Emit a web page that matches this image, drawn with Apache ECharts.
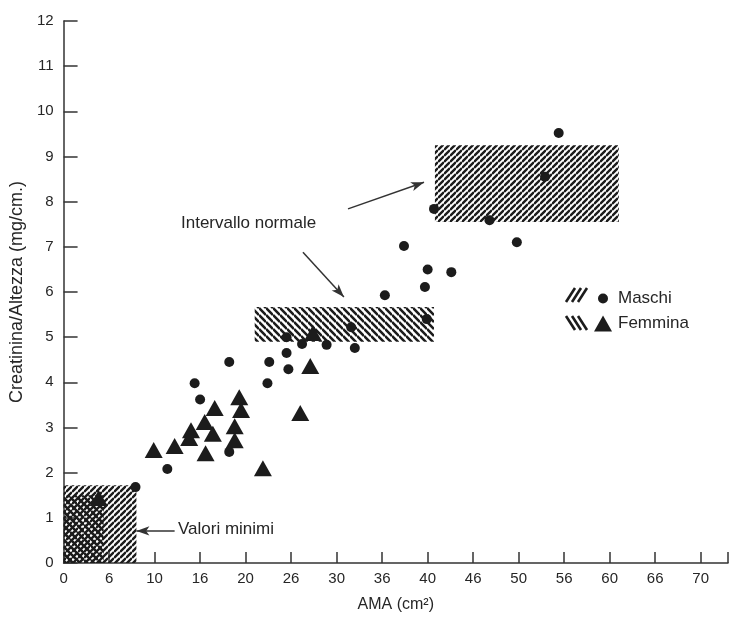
<!DOCTYPE html>
<html>
<head>
<meta charset="utf-8">
<script src="https://cdn.jsdelivr.net/npm/echarts@6/dist/echarts.min.js"></script>
<style>
  html, body { margin: 0; padding: 0; background: #ffffff; }
  #chart { width: 732px; height: 619px; }
</style>
</head>
<body>
<div id="chart"></div>
<script>
// etichette dell'asse x (come stampate nell'originale, una ogni 5 unità)
var xTickLabels = ['0', '6', '10', '16', '20', '26', '30', '36', '40', '46', '50', '56', '60', '66', '70'];

// Maschi: [AMA, creatinina/altezza]
var maschi = [
  [7.9, 1.68], [11.4, 2.08], [18.2, 4.45], [14.4, 3.98], [15.0, 3.62],
  [22.6, 4.45], [24.5, 4.65], [24.7, 4.29], [22.4, 3.98], [18.2, 2.46],
  [24.5, 5.0], [26.2, 4.85], [28.9, 4.83], [32.0, 4.76], [31.6, 5.22],
  [39.9, 5.4], [35.3, 5.93], [37.4, 7.02], [40.0, 6.5], [42.6, 6.44],
  [39.7, 6.11], [40.7, 7.84], [46.8, 7.59], [49.8, 7.1], [54.4, 9.52],
  [52.9, 8.55]
];

// Femmina
var femmina = [
  [3.85, 1.44], [9.9, 2.5], [12.2, 2.59], [13.8, 2.77], [14.0, 2.94],
  [15.5, 3.12], [16.6, 3.43], [16.4, 2.86], [15.6, 2.43], [18.8, 3.03],
  [18.8, 2.72], [19.3, 3.67], [19.5, 3.39], [21.9, 2.1], [26.0, 3.32],
  [27.1, 4.36], [27.4, 5.09]
];

// intervalli normali / valori minimi: [x1, y1, x2, y2]
var maschiBoxes = [[0, 0, 8, 1.72], [40.8, 7.55, 61, 9.25]];
var femminaBoxes = [[0, 0, 4.4, 1.5], [21, 4.9, 40.7, 5.67]];

// frecce delle annotazioni: [x1, y1, x2, y2]
var arrows = [[31.25, 7.84, 39.6, 8.43], [26.3, 6.88, 30.8, 5.89], [12.2, 0.71, 8.0, 0.71]];

var FONT = "'Liberation Sans', Arial, Helvetica, sans-serif";
var INK = '#1c1c1c';
var TXT = '#262626';

/* tratteggio: '/' per i maschi, '\' per le femmine */
function hatch(dir, s, w) {
  var c = document.createElement('canvas');
  c.width = s; c.height = s;
  var ctx = c.getContext('2d');
  ctx.strokeStyle = INK;
  ctx.lineWidth = w;
  ctx.beginPath();
  for (var k = -1; k <= 1; k++) {
    if (dir === '/') {
      ctx.moveTo(0, s + k * s); ctx.lineTo(s, k * s);
    } else {
      ctx.moveTo(0, k * s); ctx.lineTo(s, s + k * s);
    }
  }
  ctx.stroke();
  return { image: c, repeat: 'repeat' };
}
var hatchM = hatch('/', 6, 2.4);
var hatchF = hatch('\\', 7, 2.6);

function boxes(list) {
  return list.map(function (b) {
    return [{ coord: [b[0], b[1]] }, { coord: [b[2], b[3]] }];
  });
}

// piccoli campioni di tratteggio della legenda (3 tratti)
function swatch(x, y, dir) {
  var out = [];
  for (var i = 0; i < 3; i++) {
    var x0 = x + i * 6;
    var pts = dir === '/' ? [[x0, y + 16], [x0 + 9, y + 2]] : [[x0, y + 2], [x0 + 9, y + 16]];
    out.push({ type: 'polyline', shape: { points: pts }, style: { stroke: INK, lineWidth: 2.6 } });
  }
  return out;
}

var myChart = echarts.init(document.getElementById('chart'));
var option = {
  backgroundColor: '#ffffff',
  animation: false,
  textStyle: { fontFamily: FONT },
  grid: { left: 62, right: 4, top: 21, bottom: 56 },
  legend: [
    {
      data: ['Maschi'], left: 598, top: 290, padding: 0, orient: 'vertical',
      itemWidth: 10, itemHeight: 10, selectedMode: false,
      textStyle: { fontSize: 17, color: TXT, fontFamily: FONT, padding: [0, 0, 0, 5] }
    },
    {
      data: ['Femmina'], left: 594, top: 315, padding: 0, orient: 'vertical',
      itemWidth: 18, itemHeight: 16, selectedMode: false,
      textStyle: { fontSize: 17, color: TXT, fontFamily: FONT, padding: [0, 0, 0, 1] }
    }
  ],
  xAxis: {
    type: 'value', min: 0, max: 73, interval: 5,
    name: 'AMA (cm²)', nameLocation: 'middle', nameGap: 34,
    nameTextStyle: { fontSize: 16, color: TXT, fontFamily: FONT },
    axisLine: { lineStyle: { color: '#333', width: 1.5 } },
    axisTick: { inside: true, length: 11, lineStyle: { color: '#333', width: 1.5 } },
    axisLabel: {
      fontSize: 15, color: TXT, margin: 8, fontFamily: FONT,
      formatter: function (v) { return xTickLabels[Math.round(v / 5)] || ''; }
    },
    splitLine: { show: false }
  },
  yAxis: {
    type: 'value', min: 0, max: 12, interval: 1,
    name: 'Creatinina/Altezza (mg/cm.)', nameLocation: 'middle', nameGap: 35,
    nameTextStyle: { fontSize: 18, color: TXT, fontFamily: FONT },
    axisLine: { lineStyle: { color: '#333', width: 1.5 } },
    axisTick: { inside: true, length: 14, lineStyle: { color: '#333', width: 1.5 } },
    axisLabel: { fontSize: 15, color: TXT, margin: 10, fontFamily: FONT },
    splitLine: { show: false }
  },
  series: [
    {
      name: 'Maschi', type: 'scatter', symbol: 'circle', symbolSize: 10,
      itemStyle: { color: INK, opacity: 1 },
      data: maschi,
      markArea: {
        silent: true,
        itemStyle: { color: hatchM, borderWidth: 0 },
        data: boxes(maschiBoxes)
      },
      markLine: {
        silent: true,
        symbol: ['none', 'arrow'], symbolSize: [7, 13],
        label: { show: false },
        lineStyle: { color: '#333', width: 1.5, type: 'solid' },
        data: arrows.map(function (a) {
          return [{ coord: [a[0], a[1]] }, { coord: [a[2], a[3]] }];
        })
      }
    },
    {
      name: 'Femmina', type: 'scatter', symbol: 'triangle', symbolSize: [18, 16],
      itemStyle: { color: INK, opacity: 1 },
      data: femmina,
      markArea: {
        silent: true,
        itemStyle: { color: hatchF, borderWidth: 0 },
        data: boxes(femminaBoxes)
      }
    }
  ],
  graphic: [
    { type: 'text', left: 181, top: 215,
      style: { text: 'Intervallo normale', fontSize: 17, fill: TXT, fontFamily: FONT } },
    { type: 'text', left: 178, top: 521,
      style: { text: 'Valori minimi', fontSize: 17, fill: TXT, fontFamily: FONT } }
  ].concat(swatch(566, 286, '/'), swatch(566, 314, '\\'))
};
myChart.setOption(option);
window.addEventListener('resize', function () { myChart.resize(); });
</script>
</body>
</html>
